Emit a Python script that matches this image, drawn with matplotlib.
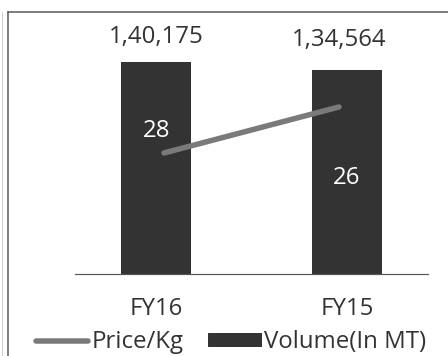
import matplotlib
matplotlib.use("Agg")
import matplotlib.pyplot as plt
from matplotlib.lines import Line2D
from matplotlib.patches import Patch

categories = ["FY16", "FY15"]
volume = [140175, 134564]
volume_labels = ["1,40,175", "1,34,564"]
price = [28, 26]

BAR = "#333333"
LINE = "#7a7a7a"
TXT = "#333333"
FONT = "Open Sans"
FS = 24

DPI = 72
W, H = 448, 356
fig = plt.figure(figsize=(W / DPI, H / DPI), dpi=DPI)
fig.patch.set_facecolor("white")

# axes box in pixels: x 75..428, y 11..274
ax = fig.add_axes([75 / W, (H - 274) / H, (428 - 75) / W, (274 - 11) / H])
x = list(range(len(categories)))
ax.bar(x, volume, width=0.366, color=BAR, zorder=2)
ax.set_xlim(-0.424, 1.424)
ax.set_ylim(0, 173900)
for s in ["top", "left", "right"]:
    ax.spines[s].set_visible(False)
ax.spines["bottom"].set_color("#555555")
ax.spines["bottom"].set_linewidth(1.2)
ax.set_yticks([])
ax.set_xticks(x)
ax.set_xticklabels(categories, fontsize=FS, color=TXT, family=FONT)
ax.tick_params(axis="x", length=0, pad=23)
ax.patch.set_alpha(0)

offs = [(0, 13), (-8, 18)]
for xi, v, lab, o in zip(x, volume, volume_labels, offs):
    ax.annotate(lab, (xi, v), xytext=o, textcoords="offset points",
                ha="center", va="bottom", fontsize=FS, color=TXT, family=FONT)

# secondary axis for price (inverted)
ax2 = fig.add_axes(ax.get_position())
ax2.patch.set_alpha(0)
ax2.plot(x, price, color=LINE, lw=5.5, solid_capstyle="round", zorder=3)
ax2.set_xlim(-0.509, 1.509)
ax2.set_ylim(33.26, 21.83)
ax2.axis("off")
poffs = [(-7, 22), (8, -71)]
for xi, p, o in zip(x, price, poffs):
    ax2.annotate(str(p), (xi, p), xytext=o, textcoords="offset points",
                 ha="center", va="center", fontsize=FS, color="white", family=FONT)

# frame lines
fig.add_artist(Line2D([7.5 / W, 7.5 / W], [0, 1 - 11.5 / H], transform=fig.transFigure,
                      color="#555555", lw=1.5))
fig.add_artist(Line2D([7.5 / W, 1], [1 - 11.5 / H, 1 - 11.5 / H], transform=fig.transFigure,
                      color="#555555", lw=1.5))
fig.add_artist(Line2D([1.5 / W, 1.5 / W], [0, 1 - 12 / H], transform=fig.transFigure,
                      color="#cccccc", lw=1))

handles = [Line2D([], [], color=LINE, lw=5.5, solid_capstyle="round"),
           Patch(facecolor=BAR, edgecolor=BAR)]
leg = fig.legend(handles, ["Price/Kg", "Volume(In MT)"], loc="center",
                 bbox_to_anchor=(231 / W, 1 - 342 / H), ncol=2, frameon=False,
                 prop={"family": FONT, "size": FS}, handlelength=2.2,
                 handleheight=0.42, handletextpad=0.15, columnspacing=1.0,
                 borderpad=0, borderaxespad=0)
for t in leg.get_texts():
    t.set_color(TXT)

fig.savefig("out.png", dpi=DPI, facecolor="white")
